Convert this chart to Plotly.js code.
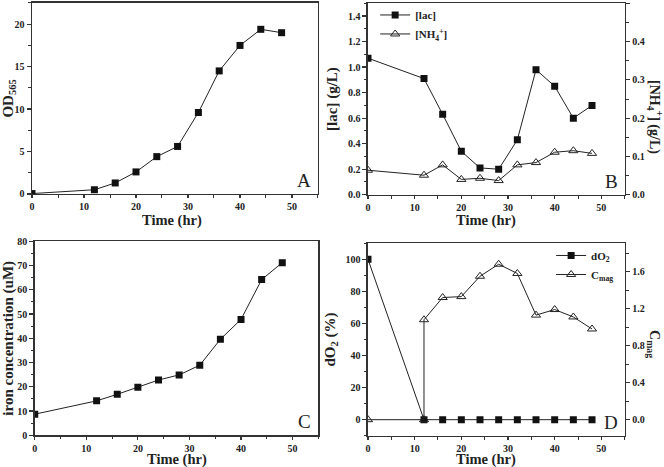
<!DOCTYPE html>
<html><head><meta charset="utf-8">
<script src="https://cdn.plot.ly/plotly-3.0.1.min.js"></script>
<style>html,body{margin:0;padding:0;background:#fff}#c{width:664px;height:467px}</style>
</head><body><div id="c"></div>
<script>
const time = [0,12,16,20,24,28,32,36,40,44,48];
const od565 = [0.05,0.5,1.3,2.6,4.4,5.6,9.6,14.5,17.5,19.4,19.0];
const lac = [1.07,0.91,0.63,0.34,0.21,0.20,0.43,0.98,0.85,0.60,0.70];
const nh4 = [0.064,0.051,0.078,0.040,0.043,0.037,0.078,0.084,0.111,0.115,0.108];
const iron = [8.7,14.2,16.9,19.8,22.8,24.9,28.9,39.6,47.8,64.2,71.2];
const do2 = [100,0,0,0,0,0,0,0,0,0,0];
const timeMag = [0,12,12,16,20,24,28,32,36,40,44,48];
const cmag = [0,0,1.08,1.32,1.33,1.55,1.68,1.58,1.13,1.19,1.11,0.98];
const panelLetters = ['A','B','C','D'];
const xTitle = 'Time (hr)';

const FONT = 'Liberation Serif, Times New Roman, serif';
const AX = '#333';
function ax(extra){
  return Object.assign({
    showline:true, linecolor:AX, linewidth:1.5, mirror:true,
    ticks:'outside', ticklen:4, tickwidth:1.2, tickcolor:AX,
    showgrid:false, zeroline:false,
    tickfont:{family:FONT, size:10, color:'#222', weight:'bold'}
  }, extra);
}
function mn(d){return {dtick:d, ticks:'outside', ticklen:2.5, tickwidth:1, tickcolor:AX};}
function ttl(t, s){return {text:t, font:{family:FONT, size:15, color:'#222', weight:'bold'}, standoff:s};}
const TF = {family:FONT, size:14.5, color:'#222', weight:'bold'};

const sq = {symbol:'square', size:7, color:'#111'};
const tri = {symbol:'triangle-up-open', size:8, color:'#222', line:{width:1, color:'#222'}};
const ln = {color:'#222', width:1};

const data = [
  {x:time, y:od565, xaxis:'x', yaxis:'y', mode:'lines+markers', marker:sq, line:ln, showlegend:false},
  {x:time, y:lac, xaxis:'x2', yaxis:'y2', mode:'lines+markers', marker:sq, line:ln, name:'[lac]', legend:'legend'},
  {x:time, y:nh4, xaxis:'x2', yaxis:'y3', mode:'lines+markers', marker:tri, line:ln, name:'[NH<sub>4</sub><sup>+</sup>]', legend:'legend'},
  {x:time, y:iron, xaxis:'x3', yaxis:'y4', mode:'lines+markers', marker:sq, line:ln, showlegend:false},
  {x:time, y:do2, xaxis:'x4', yaxis:'y5', mode:'lines+markers', marker:sq, line:ln, name:'dO<sub>2</sub>', legend:'legend2'},
  {x:timeMag, y:cmag, xaxis:'x4', yaxis:'y6', mode:'lines+markers', marker:tri, line:ln, name:'C<sub>mag</sub>', legend:'legend2'}
];

const xl = {range:[0,55], dtick:10, minor:mn(5), ticklen:3};
function letter(t, x, y){
  return {text:t, x:x, y:y, xref:'paper', yref:'paper', xanchor:'right', yanchor:'bottom', xshift:-5, yshift:1, showarrow:false, font:{family:FONT, size:19, color:'#222'}};
}
function xt(cx, cy){
  return {text:xTitle, x:cx/664, y:1-cy/467, xref:'paper', yref:'paper', xanchor:'center', yanchor:'middle', borderpad:0, showarrow:false, font:TF};
}
const layout = {
  width:664, height:467, margin:{l:0,r:0,t:0,b:0},
  paper_bgcolor:'#fff', plot_bgcolor:'rgba(0,0,0,0)',
  font:{family:FONT, color:'#222'},
  xaxis: ax(Object.assign({}, xl, {domain:[0.0482,0.4789], anchor:'y'})),
  yaxis: ax({domain:[0.5846,0.9936], anchor:'x', range:[0,22.5], dtick:5, minor:mn(2.5), title:ttl('OD<sub>565</sub>',6)}),
  xaxis2: ax(Object.assign({}, xl, {domain:[0.5542,0.9408], anchor:'y2'})),
  yaxis2: ax({domain:[0.583,0.993], anchor:'x2', range:[0,1.5], dtick:0.2, tickformat:'.1f', mirror:false, minor:mn(0.1), title:ttl('[lac] (g/L)',6)}),
  yaxis3: ax({overlaying:'y2', anchor:'x2', side:'right', range:[0,0.5], dtick:0.1, tickformat:'.1f', mirror:false, minor:mn(0.05)}),
  xaxis3: ax(Object.assign({}, xl, {domain:[0.0523,0.4795], anchor:'y4'})),
  yaxis4: ax({domain:[0.0679,0.4833], anchor:'x3', range:[0,80], dtick:10, minor:mn(5), title:ttl('iron concentration (uM)',5)}),
  xaxis4: ax(Object.assign({}, xl, {domain:[0.5542,0.9408], anchor:'y5'})),
  yaxis5: ax({domain:[0.067,0.479], anchor:'x4', range:[-10,110], dtick:20, tick0:0, mirror:false, minor:mn(10), title:ttl('dO<sub>2</sub> (%)',6)}),
  yaxis6: ax({overlaying:'y5', anchor:'x4', side:'right', range:[-0.1733,1.906], dtick:0.4, tick0:0, tickformat:'.1f', mirror:false, minor:mn(0.2)}),
  legend:{x:0.565, y:0.999, xanchor:'left', yanchor:'top', bgcolor:'rgba(0,0,0,0)', font:{family:FONT, size:11, weight:'bold'}, tracegroupgap:0, itemwidth:30},
  legend2:{x:0.83, y:0.484, xanchor:'left', yanchor:'top', bgcolor:'rgba(0,0,0,0)', font:{family:FONT, size:11, weight:'bold'}, tracegroupgap:0, itemwidth:30},
  annotations:[
    letter(panelLetters[0], 0.4789, 0.5846),
    letter(panelLetters[1], 0.9408, 0.583),
    letter(panelLetters[2], 0.4795, 0.0679),
    letter(panelLetters[3], 0.9408, 0.067),
    xt(172, 220), xt(486, 220), xt(177, 459), xt(486, 459),
    {text:'[NH<sub>4</sub><sup>+</sup>] (g/L)', x:655/664, y:1-117/467, xref:'paper', yref:'paper', xanchor:'center', yanchor:'middle', textangle:90, showarrow:false, font:{family:FONT, size:14, color:'#222', weight:'bold'}},
    {text:'C<sub>mag</sub>', x:654/664, y:1-344/467, xref:'paper', yref:'paper', xanchor:'center', yanchor:'middle', textangle:90, showarrow:false, font:{family:FONT, size:14, color:'#222', weight:'bold'}}
  ]
};
Plotly.newPlot('c', data, layout, {displayModeBar:false, staticPlot:true});
</script></body></html>
